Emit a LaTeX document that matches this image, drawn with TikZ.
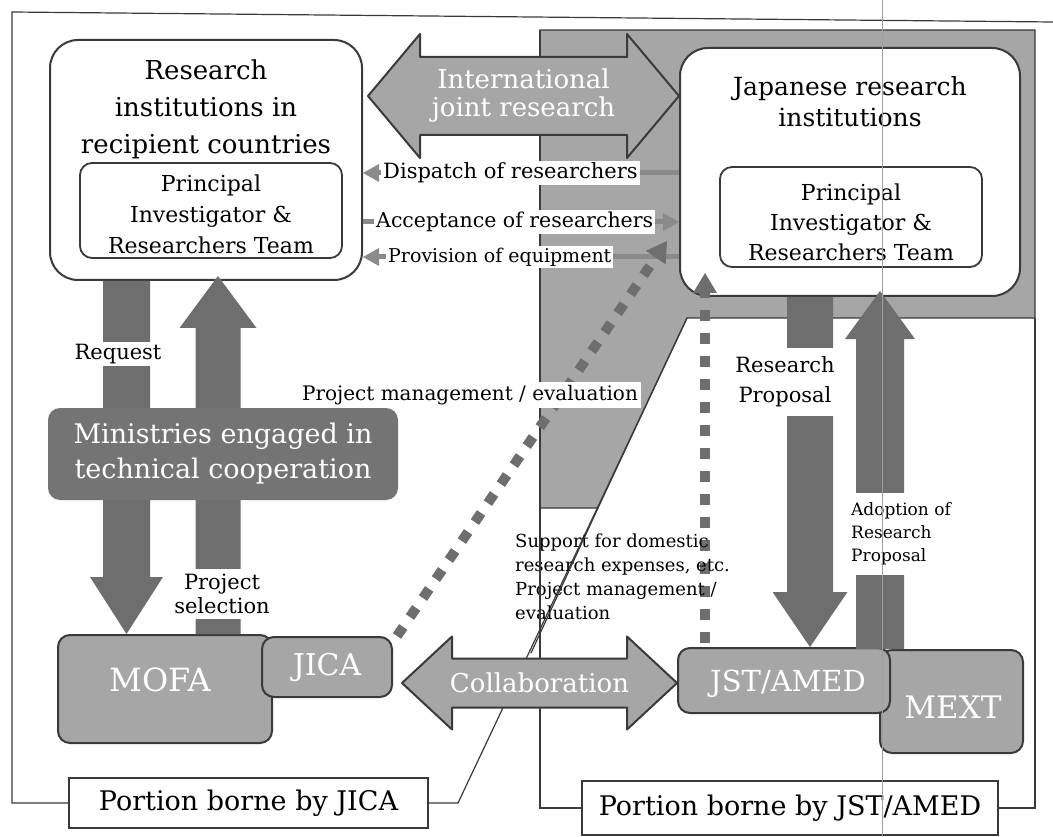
\documentclass[tikz,border=0pt]{standalone}
\usepackage{fontspec}
\setmainfont{DejaVu Serif}
\usetikzlibrary{calc,arrows.meta}
\definecolor{texg}{HTML}{A6A6A6}
\definecolor{edge}{HTML}{3A3A3A}
\definecolor{darkarr}{HTML}{6E6E6E}
\definecolor{minis}{HTML}{747474}
\definecolor{smallarr}{HTML}{8A8A8A}
\newcommand{\fs}[2]{\fontsize{#1}{#2}\selectfont}
% single block arrow: style, start, end, shaft half width, head half width, head length
\newcommand{\blockarrow}[6]{%
  \coordinate (baB) at ($(#3)!#6!(#2)$);
  \path[#1] ($(#2)!#4!90:(#3)$) -- ($(baB)!#4!-90:(#2)$) -- ($(baB)!#5!-90:(#2)$) -- (#3) -- ($(baB)!#5!90:(#2)$) -- ($(baB)!#4!90:(#2)$) -- ($(#2)!#4!-90:(#3)$) -- cycle;%
}
% double block arrow
\newcommand{\dblarrow}[6]{%
  \coordinate (baA) at ($(#2)!#6!(#3)$);
  \coordinate (baB) at ($(#3)!#6!(#2)$);
  \path[#1] (#2) -- ($(baA)!#5!90:(#3)$) -- ($(baA)!#4!90:(#3)$) -- ($(baB)!#4!-90:(#2)$) -- ($(baB)!#5!-90:(#2)$) -- (#3) -- ($(baB)!#5!90:(#2)$) -- ($(baB)!#4!90:(#2)$) -- ($(baA)!#4!-90:(#3)$) -- ($(baA)!#5!-90:(#3)$) -- cycle;%
}
\tikzset{
  outerbox/.style={draw=edge, line width=2pt, fill=white, rounded corners=28pt, inner sep=0pt},
  innerbox/.style={draw=edge, line width=1.8pt, rounded corners=12pt, inner sep=0pt},
  texbox/.style={draw=edge, line width=2pt, fill=texg, rounded corners=12pt, inner sep=0pt, text=white},
  minbox/.style={fill=minis, rounded corners=12pt, inner sep=0pt, text=white, align=center},
  portbox/.style={draw=edge, line width=1.2pt, fill=white, inner sep=0pt},
  frame/.style={draw=edge, line width=1.2pt},
  graybg/.style={fill=texg, draw=edge, line width=1.2pt},
  texarrow/.style={fill=texg, draw=edge, line width=2pt, line join=round},
  darkarrow/.style={fill=darkarr},
  whitelabel/.style={fill=white, inner sep=2pt},
  lbl/.style={inner sep=0pt, align=center},
  smallarrow/.style={draw=smallarr, line width=5pt, -{Triangle[length=16pt,width=18pt,line width=0pt]}},
  dotline/.style={draw=darkarr, line width=10pt, dash pattern=on 11pt off 12pt, -{Triangle[length=20pt,width=24pt,line width=0pt]}},
}
\begin{document}
\begin{tikzpicture}[x=1pt,y=-1pt]
\useasboundingbox (0,0) rectangle (1053,837);
\fill[white] (0,0) rectangle (1053,837);

% JST/AMED shaded region
\path[graybg] (540,30) -- (1035,30) -- (1035,318) -- (687,318) -- (598,508) -- (540,508) -- cycle;

% portion boxes
\node[portbox, minimum width=359pt, minimum height=50pt, font=\fs{27}{30}] (pJ) at (248.5,803) {Portion borne by JICA};
\node[portbox, minimum width=416pt, minimum height=54pt, font=\fs{27}{30}] (pA) at (790,808) {Portion borne by JST/AMED};

% frames
\draw[frame] (pJ.west) -- (12,803) -- (12,12) -- (1053,22);
\draw[frame] (pJ.east) -- (458,803) -- (687,318);
\draw[frame] (pA.west) -- (540,808) -- (540,30);
\draw[frame] (1035,318) -- (1035,808) -- (pA.east);

% main institution boxes
\node[outerbox, minimum width=312pt, minimum height=240pt] (rec) at (206,160) {};
\node[lbl, font=\fs{26}{37}] (recT) at (206,109) {Research\\institutions in\\recipient countries};
\node[innerbox, minimum width=262pt, minimum height=95pt] (recpi) at (211,210.5) {};
\node[lbl, font=\fs{22}{31}] (recpiT) at (211,214) {Principal\\Investigator \&\\Researchers Team};

\node[outerbox, minimum width=340pt, minimum height=248pt] (jap) at (850,172) {};
\node[lbl, font=\fs{25}{31}] (japT) at (850,102) {Japanese research\\institutions};
\node[innerbox, minimum width=262pt, minimum height=100pt] (jappi) at (851,217) {};
\node[lbl, font=\fs{22}{30}] (jappiT) at (851,222) {Principal\\Investigator \&\\Researchers Team};

% agency boxes
\node[texbox, minimum width=214pt, minimum height=108pt] (mofa) at (165,689) {};
\node[lbl, text=white, font=\fs{32}{34}] (mofaT) at (160,680) {MOFA};
\node[texbox, minimum width=130pt, minimum height=60pt, font=\fs{30}{32}] (jica) at (327,667) {JICA};
\node[texbox, minimum width=143pt, minimum height=103pt] (mext) at (951.5,701.5) {};
\node[lbl, text=white, font=\fs{31}{33}] (mextT) at (953,707) {MEXT};
\node[texbox, minimum width=212pt, minimum height=65pt] (jst) at (784,680.5) {};
\node[lbl, text=white, font=\fs{29}{31}] (jstT) at (788,684) {JST/AMED};

% international joint research
\coordinate (intY) at (0,96);
\coordinate (intA) at ($(rec.east |- intY)+(5,0)$);
\coordinate (intB) at (jap.west |- intY);
\dblarrow{texarrow}{intA}{intB}{39pt}{62pt}{52pt}
\node[lbl, text=white, font=\fs{26}{28}] (intT) at ($(intA)!0.5!(intB)$) {International\\joint research};

% collaboration
\coordinate (colY) at (0,683);
\coordinate (colA) at ($(jica.east |- colY)+(9,0)$);
\coordinate (colB) at (jst.west |- colY);
\dblarrow{texarrow}{colA}{colB}{24.5pt}{46.5pt}{50pt}
\node[lbl, text=white, font=\fs{26}{28}] (colT) at ($(colA)!0.5!(colB)$) {Collaboration};

% small exchange arrows
\coordinate (dY) at (0,173);
\coordinate (aY) at (0,222);
\coordinate (pY) at (0,257);
\draw[smallarrow] (jap.west |- dY) -- (rec.east |- dY);
\draw[smallarrow] (rec.east |- aY) -- (jap.west |- aY);
\draw[smallarrow] (jap.west |- pY) -- (rec.east |- pY);

% dark vertical arrows
\coordinate (reqX) at (126.5,0);
\coordinate (reqA) at (reqX |- rec.south);
\coordinate (reqB) at (reqX |- mofa.north);
\blockarrow{darkarrow}{reqA}{reqB}{23.5pt}{36.5pt}{57pt}
\coordinate (selX) at (218,0);
\coordinate (selA) at (selX |- mofa.north);
\coordinate (selB) at ($(selX |- rec.south)+(0,-5)$);
\blockarrow{darkarrow}{selA}{selB}{22.5pt}{38.5pt}{52pt}
\coordinate (rpX) at (810,0);
\coordinate (rpA) at (rpX |- jap.south);
\coordinate (rpB) at (rpX |- jst.north);
\blockarrow{darkarrow}{rpA}{rpB}{23pt}{37.5pt}{55pt}
\coordinate (adX) at (880,0);
\coordinate (adA) at (adX |- mext.north);
\coordinate (adB) at ($(adX |- jap.south)+(0,-6)$);
\blockarrow{darkarrow}{adA}{adB}{24pt}{35pt}{48pt}

% ministries box
\node[minbox, minimum width=350pt, minimum height=92pt, font=\fs{27}{35}] (min) at (223,454) {Ministries engaged in\\technical cooperation};

% dotted management lines
\coordinate (dvX) at (705,0);
\coordinate (dvA) at ($(dvX |- jst.north)+(0,-4)$);
\coordinate (dvB) at ($(dvX |- jap.south)+(0,-24)$);
\draw[dotline] (dvA) -- (dvB);
\coordinate (ddA) at ($(jica.north east)+(4,0)$);
\coordinate (ddB) at ($(jap.south west)+(-12,-56)$);
\draw[dotline] (ddA) -- (ddB);

% labels
\node[whitelabel, anchor=west, font=\fs{21}{25}] (disp) at (381,173) {Dispatch of researchers};
\node[whitelabel, anchor=west, font=\fs{20.5}{25}] (acc) at (374,222) {Acceptance of researchers};
\node[whitelabel, anchor=west, font=\fs{19}{23}] (prov) at (386,257) {Provision of equipment};
\node[whitelabel, font=\fs{21}{25}] (req) at (118,354) {Request};
\node[whitelabel, align=center, inner ysep=5pt, font=\fs{21}{24}] (ps) at (222,594) {Project\\selection};
\node[whitelabel, inner sep=3pt, font=\fs{20}{24}] (pm) at (470,395) {Project management / evaluation};
\node[whitelabel, align=center, inner ysep=9pt, font=\fs{21}{30}] (rp) at (785,382) {Research\\Proposal};
\node[whitelabel, align=left, anchor=west, inner ysep=10pt, font=\fs{17}{23}] (adop) at (849,534) {Adoption of\\Research\\Proposal};
\node[lbl, align=left, anchor=west, font=\fs{18}{24}] (supp) at (515,577) {Support for domestic\\research expenses, etc.\\Project management /\\evaluation};

% frame pieces that run across the support text
\draw[frame] (540,510) -- (540,640);
\draw[frame] (598,508) -- (531,653);

% scan line
\draw[draw=gray!75, line width=1pt] (882,0) -- (882,837);
\end{tikzpicture}
\end{document}
